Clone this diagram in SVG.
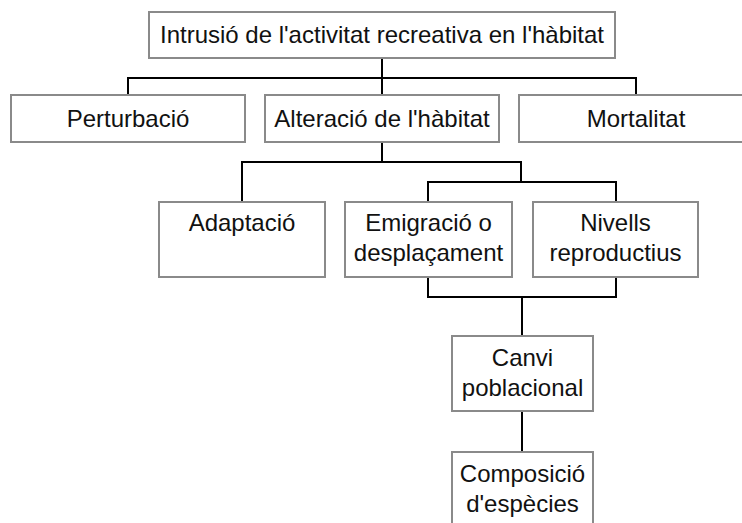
<svg xmlns="http://www.w3.org/2000/svg" width="742" height="523" viewBox="0 0 742 523">
<style>
.box{fill:#fff;stroke:#8a8a8a;stroke-width:2}
.t{font-family:"Liberation Sans",Arial,sans-serif;font-size:24px;fill:#111;text-anchor:middle}
.c{fill:none;stroke:#000;stroke-width:2}
</style>
<rect width="742" height="523" fill="#fff"/>
<g id="connectors">
<path class="c" d="M382 58V78M128 95V78H636V95M382 78V95"/>
<path class="c" d="M382 142V162M242 202V162H521V182M428 202V182H616V202"/>
<path class="c" d="M428 277V297H616V277M522 297V336"/>
<path class="c" d="M522 411V452"/>
</g>
<g id="n-intrusio"><rect class="box" x="149" y="12" width="466" height="46"/><text class="t" x="382" y="43">Intrusió de l'activitat recreativa en l'hàbitat</text></g>
<g id="n-perturbacio"><rect class="box" x="11" y="95" width="234" height="47"/><text class="t" x="128" y="127">Perturbació</text></g>
<g id="n-alteracio"><rect class="box" x="265" y="95" width="234" height="47"/><text class="t" x="382" y="127">Alteració de l'hàbitat</text></g>
<g id="n-mortalitat"><rect class="box" x="519" y="95" width="234" height="47"/><text class="t" x="636" y="127">Mortalitat</text></g>
<g id="n-adaptacio"><rect class="box" x="159" y="202" width="166" height="75"/><text class="t" x="242" y="231">Adaptació</text></g>
<g id="n-emigracio"><rect class="box" x="345" y="202" width="167" height="75"/><text class="t" x="428.5" y="231">Emigració o</text><text class="t" x="428.5" y="261">desplaçament</text></g>
<g id="n-nivells"><rect class="box" x="533" y="202" width="165" height="75"/><text class="t" x="615.5" y="231">Nivells</text><text class="t" x="615.5" y="261">reproductius</text></g>
<g id="n-canvi"><rect class="box" x="452" y="336" width="141" height="75"/><text class="t" x="522.5" y="366">Canvi</text><text class="t" x="522.5" y="396">poblacional</text></g>
<g id="n-composicio"><rect class="box" x="452" y="452" width="141" height="80"/><text class="t" x="522.5" y="482">Composició</text><text class="t" x="522.5" y="512">d'espècies</text></g>
</svg>
